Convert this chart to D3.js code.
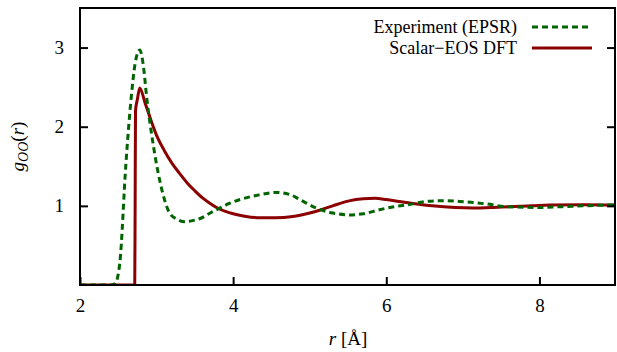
<!DOCTYPE html>
<html><head><meta charset="utf-8">
<script src="https://cdn.jsdelivr.net/npm/d3@7"></script>
<style>body{margin:0;background:#fff}svg{display:block}svg text{font-family:"Liberation Serif","Times New Roman",Times,"DejaVu Serif","Noto Serif",serif !important;fill:#000}</style>
</head><body><svg id="c" width="617" height="352"></svg>
<script>
const seriesNames = ["Experiment (EPSR)", "Scalar\u2212EOS DFT"];
const xTicks = [2, 4, 6, 8];
const yTicks = [1, 2, 3];
const expR = [2.0, 2.40, 2.46, 2.52, 2.60, 2.67, 2.72, 2.78, 2.83, 2.87, 2.96, 3.07, 3.17, 3.27, 3.37, 3.50, 3.57, 3.70, 3.78, 3.95, 4.09, 4.30, 4.57, 4.75, 4.87, 5.09, 5.30, 5.52, 5.70, 5.91, 6.10, 6.26, 6.52, 6.75, 6.96, 7.30, 7.57, 8.0, 8.3, 8.56, 8.95, 9.0];
const expG = [0, 0, 0.02, 0.28, 1.54, 2.38, 2.80, 2.97, 2.75, 2.38, 1.75, 1.20, 0.91, 0.83, 0.80, 0.82, 0.84, 0.91, 0.95, 1.03, 1.08, 1.13, 1.17, 1.14, 1.08, 0.97, 0.91, 0.886, 0.90, 0.95, 0.99, 1.01, 1.055, 1.065, 1.055, 1.025, 0.99, 0.98, 0.99, 1.0, 1.01, 1.01];
const dftR = [2.0, 2.715, 2.72, 2.725, 2.75, 2.78, 2.85, 2.92, 3.0, 3.1, 3.2, 3.3, 3.4, 3.5, 3.6, 3.7, 3.8, 3.9, 4.0, 4.15, 4.35, 4.55, 4.78, 5.0, 5.13, 5.3, 5.5, 5.7, 5.85, 6.0, 6.17, 6.35, 6.6, 6.9, 7.13, 7.4, 7.6, 7.9, 8.13, 8.6, 9.0];
const dftG = [0, 0, 1.0, 2.2, 2.35, 2.49, 2.30, 2.10, 1.89, 1.70, 1.54, 1.41, 1.29, 1.19, 1.10, 1.03, 0.97, 0.93, 0.90, 0.87, 0.85, 0.85, 0.865, 0.91, 0.945, 1.0, 1.06, 1.09, 1.095, 1.08, 1.055, 1.03, 1.0, 0.978, 0.972, 0.98, 0.99, 1.0, 1.01, 1.015, 1.01];

const svg = d3.select("#c");
const L = 80, R = 616, T = 8, B = 285;
const x = d3.scaleLinear().domain([2, 9]).range([L, R]);
const y = d3.scaleLinear().domain([0, 3.5]).range([B, T]);

svg.append("defs").append("clipPath").attr("id","pc").append("rect")
  .attr("x", L).attr("y", T).attr("width", R - L).attr("height", B - T);

const line = d3.line().x(d => x(d[0])).y(d => y(d[1])).curve(d3.curveMonotoneX);
const g = svg.append("g").attr("clip-path", "url(#pc)");
g.append("path").datum(dftR.map((r, i) => [r, dftG[i]])).attr("d", line)
  .attr("fill", "none").attr("stroke", "#8b0000").attr("stroke-width", 3);
g.append("path").datum(expR.map((r, i) => [r, expG[i]])).attr("d", line)
  .attr("fill", "none").attr("stroke", "#006400").attr("stroke-width", 3).attr("stroke-dasharray", "6,4");

// frame
svg.append("rect").attr("x", L).attr("y", T).attr("width", R - L - 1).attr("height", B - T)
  .attr("fill", "none").attr("stroke", "#000").attr("stroke-width", 2);

const fam = "Liberation Serif";
const xa = svg.append("g").attr("transform", `translate(0,${B})`)
  .call(d3.axisBottom(x).tickValues(xTicks).tickSizeInner(-8).tickSizeOuter(0).tickPadding(14).tickFormat(d3.format("d")));
xa.attr("font-family", fam).attr("font-size", 19);
xa.select(".domain").remove();
xa.selectAll("line").attr("stroke-width", 2);

const ya = svg.append("g").attr("transform", `translate(${L},0)`)
  .call(d3.axisLeft(y).tickValues(yTicks).tickSizeInner(-8).tickSizeOuter(0).tickPadding(16).tickFormat(d3.format("d")));
ya.attr("font-family", fam).attr("font-size", 19);
ya.select(".domain").remove();
ya.selectAll("line").attr("stroke-width", 2);

const yr = svg.append("g").attr("transform", `translate(${R - 1},0)`)
  .call(d3.axisRight(y).tickValues(yTicks).tickSizeInner(-8).tickSizeOuter(0).tickFormat(""));
yr.select(".domain").remove();
yr.selectAll("line").attr("stroke-width", 2);

const xl = svg.append("text").attr("x", (L + R) / 2).attr("y", 345).attr("text-anchor", "middle").attr("font-size", 19);
xl.append("tspan").attr("font-style", "italic").text("r");
xl.append("tspan").text(" [Å]");

const yl = svg.append("text").attr("transform", `translate(24,${(T + B) / 2}) rotate(-90)`).attr("text-anchor", "middle").attr("font-size", 19);
yl.append("tspan").attr("font-style", "italic").text("g");
yl.append("tspan").attr("font-style", "italic").attr("font-size", 14).attr("dy", 4).text("OO");
yl.append("tspan").attr("dy", -4).text("(");
yl.append("tspan").attr("font-style", "italic").text("r");
yl.append("tspan").text(")");

const legY = [27, 48];
const legColors = ["#006400", "#8b0000"];
seriesNames.forEach((n, i) => {
  svg.append("text").attr("x", 517).attr("y", legY[i] + 6).attr("text-anchor", "end").attr("font-size", 18).text(n);
  const l = svg.append("line").attr("x1", 532).attr("x2", 592).attr("y1", legY[i]).attr("y2", legY[i])
    .attr("stroke", legColors[i]).attr("stroke-width", 3);
  if (i === 0) l.attr("stroke-dasharray", "6,4");
});
</script></body></html>
